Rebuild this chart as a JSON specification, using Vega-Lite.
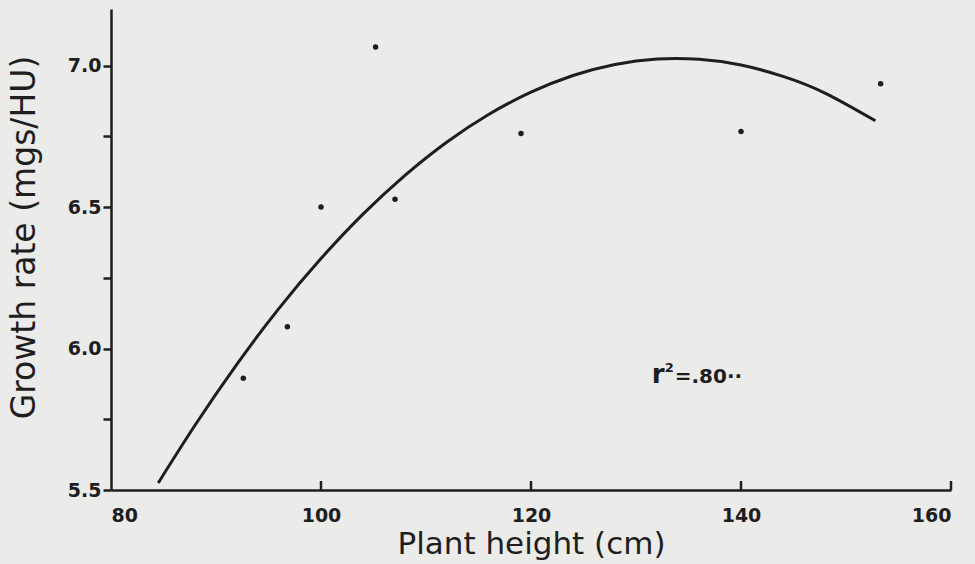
{
  "$schema": "https://vega.github.io/schema/vega-lite/v6.json",
  "autosize": {"type": "none"},
  "padding": {"left": 111, "top": 9, "right": 24, "bottom": 74},
  "width": 840,
  "height": 481,
  "background": "#ebebea",
  "config": {
    "view": {"stroke": null},
    "axis": {
      "domainColor": "#1e1e1e",
      "domainWidth": 2.5,
      "tickColor": "#1e1e1e",
      "tickWidth": 2.5,
      "grid": false,
      "labelColor": "#1e1e1e",
      "labelFont": "DejaVu Sans",
      "labelFontWeight": "bold",
      "titleColor": "#1e1e1e",
      "titleFont": "DejaVu Sans",
      "titleFontWeight": "normal"
    }
  },
  "datasets": {
    "points": [
      {"height": 92.6, "rate": 5.895},
      {"height": 96.8, "rate": 6.077},
      {"height": 100.0, "rate": 6.5},
      {"height": 105.2, "rate": 7.066},
      {"height": 107.05, "rate": 6.528},
      {"height": 119.05, "rate": 6.76},
      {"height": 140.0, "rate": 6.767},
      {"height": 153.3, "rate": 6.936}
    ],
    "curve": [
      {"height": 84.5, "rate": 5.525},
      {"height": 88, "rate": 5.729},
      {"height": 92, "rate": 5.945},
      {"height": 96, "rate": 6.142},
      {"height": 100, "rate": 6.318},
      {"height": 104, "rate": 6.475},
      {"height": 108, "rate": 6.612},
      {"height": 112, "rate": 6.73},
      {"height": 116, "rate": 6.828},
      {"height": 120, "rate": 6.906},
      {"height": 124, "rate": 6.965},
      {"height": 128, "rate": 7.004},
      {"height": 132, "rate": 7.023},
      {"height": 136, "rate": 7.022},
      {"height": 140, "rate": 7.002},
      {"height": 144, "rate": 6.962},
      {"height": 148, "rate": 6.903},
      {"height": 152.8, "rate": 6.805}
    ],
    "xticks": [
      {"height": 100}, {"height": 120}, {"height": 140}, {"height": 160}
    ],
    "note": [
      {"height": 131.5, "rate": 5.878, "r": "r", "sup": "2", "rest": "=.80··"}
    ]
  },
  "layer": [
    {
      "data": {"name": "curve"},
      "mark": {"type": "line", "color": "#1e1e1e", "strokeWidth": 3, "interpolate": "natural"},
      "encoding": {
        "x": {
          "field": "height", "type": "quantitative",
          "scale": {"domain": [80, 160], "nice": false, "zero": false},
          "axis": {
            "title": "Plant height (cm)",
            "values": [80, 100, 120, 140, 160],
            "ticks": false,
            "labelFontSize": 19,
            "labelPadding": 16,
            "titleFontSize": 31,
            "titleY": 39
          }
        },
        "y": {
          "field": "rate", "type": "quantitative",
          "scale": {"domain": [5.5, 7.2], "nice": false, "zero": false},
          "axis": {
            "title": "Growth rate (mgs/HU)",
            "values": [5.5, 5.75, 6.0, 6.25, 6.5, 6.75, 7.0],
            "labelExpr": "(datum.value * 4) % 2 == 0 ? format(datum.value, '.1f') : ''",
            "labelFontSize": 19,
            "tickSize": 8,
            "labelPadding": 2,
            "titleFontSize": 33,
            "titleX": -70,
            "titleY": 228
          }
        }
      }
    },
    {
      "data": {"name": "xticks"},
      "mark": {"type": "tick", "orient": "vertical", "color": "#1e1e1e", "thickness": 2.5, "size": 9, "yOffset": -4.5, "opacity": 1},
      "encoding": {
        "x": {"field": "height", "type": "quantitative"},
        "y": {"datum": 5.5, "type": "quantitative"}
      }
    },
    {
      "data": {"name": "points"},
      "mark": {"type": "circle", "color": "#1e1e1e", "opacity": 1, "size": 30},
      "encoding": {
        "x": {"field": "height", "type": "quantitative"},
        "y": {"field": "rate", "type": "quantitative"}
      }
    },
    {
      "data": {"name": "note"},
      "mark": {"type": "text", "align": "left", "baseline": "alphabetic", "font": "DejaVu Sans", "fontWeight": "bold", "fontSize": 26, "color": "#1e1e1e"},
      "encoding": {
        "x": {"field": "height", "type": "quantitative"},
        "y": {"field": "rate", "type": "quantitative"},
        "text": {"field": "r"}
      }
    },
    {
      "data": {"name": "note"},
      "mark": {"type": "text", "align": "left", "baseline": "alphabetic", "font": "DejaVu Sans", "fontWeight": "bold", "fontSize": 13, "color": "#1e1e1e", "dx": 13, "dy": -11},
      "encoding": {
        "x": {"field": "height", "type": "quantitative"},
        "y": {"field": "rate", "type": "quantitative"},
        "text": {"field": "sup"}
      }
    },
    {
      "data": {"name": "note"},
      "mark": {"type": "text", "align": "left", "baseline": "alphabetic", "font": "DejaVu Sans", "fontWeight": "bold", "fontSize": 20, "color": "#1e1e1e", "dx": 23},
      "encoding": {
        "x": {"field": "height", "type": "quantitative"},
        "y": {"field": "rate", "type": "quantitative"},
        "text": {"field": "rest"}
      }
    }
  ]
}
